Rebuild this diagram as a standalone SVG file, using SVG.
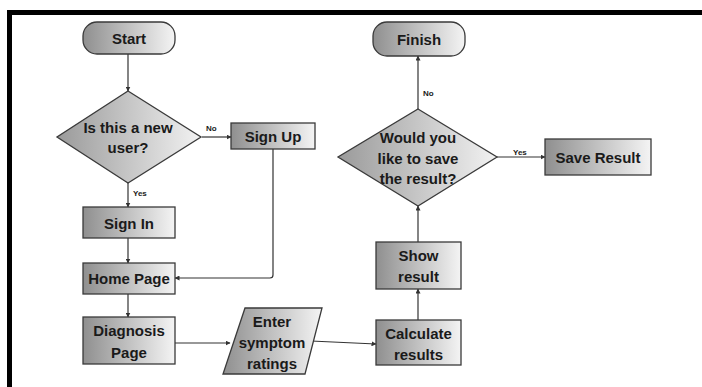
<svg xmlns="http://www.w3.org/2000/svg" width="702" height="387" viewBox="0 0 702 387">
<defs>
<linearGradient id="g" x1="0" y1="0" x2="1" y2="0">
<stop offset="0" stop-color="#8f8f8f"/>
<stop offset="1" stop-color="#f4f4f4"/>
</linearGradient>
<linearGradient id="gd" x1="0" y1="0" x2="1" y2="0">
<stop offset="0" stop-color="#9a9a9a"/>
<stop offset="1" stop-color="#f2f2f2"/>
</linearGradient>
<marker id="ah" viewBox="0 0 10 10" refX="9" refY="5" markerWidth="5" markerHeight="5" orient="auto" markerUnits="userSpaceOnUse">
<path d="M0,0 L10,5 L0,10 z" fill="#333"/>
</marker>
<style>
.n{fill:url(#g);stroke:#3a3a3a;stroke-width:1.3}
.d{fill:url(#gd);stroke:#3a3a3a;stroke-width:1.3}
.t{font-family:"Liberation Sans",Arial,sans-serif;font-weight:bold;font-size:15px;fill:#1a1a1a;text-anchor:middle;dominant-baseline:central}
.s{font-family:"Liberation Sans",Arial,sans-serif;font-weight:bold;font-size:8px;fill:#1a1a1a}
.c{fill:none;stroke:#333;stroke-width:1.2;marker-end:url(#ah)}
</style>
</defs>
<rect width="702" height="387" fill="#fff"/>
<rect id="frame" x="9.5" y="12.5" width="710" height="400" fill="none" stroke="#000" stroke-width="5"/>

<g id="connectors">
<path class="c" d="M128,54 V91"/>
<path class="c" d="M202,137 H231"/>
<path class="c" d="M128,183 V207"/>
<path class="c" d="M273,149 V275 Q273,278 270,278 H175"/>
<path class="c" d="M128,238 V263"/>
<path class="c" d="M128,294 V317"/>
<path class="c" d="M175,343 H230"/>
<path class="c" d="M311,341 L376,344"/>
<path class="c" d="M418,320 V289"/>
<path class="c" d="M418,242 V206"/>
<path class="c" d="M418,109 V56"/>
<path class="c" d="M497,157 H545"/>
<text class="s" x="206" y="131">No</text>
<text class="s" x="133" y="196">Yes</text>
<text class="s" x="423" y="96">No</text>
<text class="s" x="513" y="155">Yes</text>
</g>

<g id="start">
<rect class="n" x="83" y="22" width="92" height="32" rx="14"/>
<text class="t" x="129" y="38">Start</text>
</g>
<g id="new-user">
<polygon class="d" points="128,91 201,137 128,183 57,137"/>
<text class="t" x="128" y="127">Is this a new</text>
<text class="t" x="128" y="147">user?</text>
</g>
<g id="sign-up">
<rect class="n" x="231" y="123" width="84" height="26"/>
<text class="t" x="273" y="136">Sign Up</text>
</g>
<g id="sign-in">
<rect class="n" x="83" y="207" width="92" height="31"/>
<text class="t" x="129" y="223">Sign In</text>
</g>
<g id="home-page">
<rect class="n" x="83" y="263" width="92" height="31"/>
<text class="t" x="129" y="278">Home Page</text>
</g>
<g id="diagnosis-page">
<rect class="n" x="83" y="317" width="92" height="47"/>
<text class="t" x="129" y="330">Diagnosis</text>
<text class="t" x="129" y="352">Page</text>
</g>
<g id="enter-ratings">
<polygon class="n" points="245,308 322,308 305,374 223,374"/>
<text class="t" x="272" y="321">Enter</text>
<text class="t" x="272" y="342">symptom</text>
<text class="t" x="272" y="363">ratings</text>
</g>
<g id="calculate">
<rect class="n" x="376" y="320" width="85" height="45"/>
<text class="t" x="418.5" y="333">Calculate</text>
<text class="t" x="418.5" y="354">results</text>
</g>
<g id="show-result">
<rect class="n" x="376" y="242" width="85" height="47"/>
<text class="t" x="418.5" y="255">Show</text>
<text class="t" x="418.5" y="276">result</text>
</g>
<g id="save-question">
<polygon class="d" points="418,109 497,157 418,206 338,157"/>
<text class="t" x="418" y="137">Would you</text>
<text class="t" x="418" y="158">like to save</text>
<text class="t" x="418" y="178">the result?</text>
</g>
<g id="finish">
<rect class="n" x="373" y="22" width="92" height="34" rx="14"/>
<text class="t" x="419" y="39">Finish</text>
</g>
<g id="save-result">
<rect class="n" x="545" y="139" width="106" height="36"/>
<text class="t" x="598" y="157">Save Result</text>
</g>
</svg>
